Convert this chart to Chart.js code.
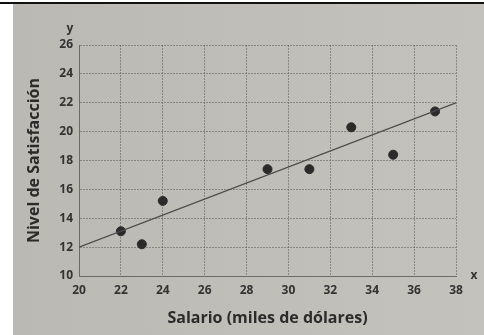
<!DOCTYPE html>
<html>
<head>
<meta charset="utf-8">
<script src="https://cdn.jsdelivr.net/npm/chart.js@4"></script>
<style>
  html, body { margin: 0; padding: 0; background: #fff; }
  #wrap { width: 484px; height: 335px; position: relative; }
</style>
</head>
<body>
<div id="wrap"><canvas id="chart" width="484" height="335"></canvas></div>
<script>
// salario (miles) vs nivel de satisfaccion
const salario = [22, 23, 24, 29, 31, 33, 35, 37];
const satisfaccion = [13.1, 12.2, 15.2, 17.4, 17.4, 20.3, 18.4, 21.4];

// recta de ajuste (extremos)
const rectaX = [20, 38];
const rectaY = [12, 22];

const xMin = 20, xMax = 38, yMin = 10, yMax = 26;

const tinta = '#2b2b2b';
const fuenteTicks = { family: 'Open Sans', size: 12, weight: 'bold' };
const fuenteTitulo = { family: 'Open Sans', size: 16, weight: 'bold' };

// fondo de papel, franja blanca y linea negra de arriba
const papel = {
  id: 'papel',
  beforeDraw(chart) {
    const ctx = chart.ctx;
    ctx.save();
    ctx.fillStyle = '#ffffff';
    ctx.fillRect(0, 0, chart.width, chart.height);
    const g = ctx.createLinearGradient(13, 0, chart.width, 0);
    g.addColorStop(0, '#bab9b4');
    g.addColorStop(1, '#c3c2bd');
    ctx.fillStyle = g;
    ctx.fillRect(13, 4, chart.width - 13, chart.height - 4);
    ctx.fillStyle = '#111';
    ctx.fillRect(0, 2, chart.width, 2);
    ctx.restore();
  },
  afterDraw(chart) {
    // letras de los ejes
    const ctx = chart.ctx;
    const a = chart.chartArea;
    ctx.save();
    ctx.fillStyle = '#333';
    ctx.font = 'bold 12px "Open Sans"';
    ctx.textAlign = 'center';
    ctx.textBaseline = 'middle';
    ctx.fillText('y', a.left - 9, a.top - 16);
    ctx.fillText('x', a.right + 18, a.bottom);
    ctx.restore();
  }
};

new Chart(document.getElementById('chart'), {
  type: 'scatter',
  data: {
    datasets: [
      {
        type: 'line',
        data: rectaX.map((x, i) => ({ x: x, y: rectaY[i] })),
        borderColor: '#4a4a4a',
        borderWidth: 1.3,
        pointRadius: 0,
        fill: false
      },
      {
        data: salario.map((x, i) => ({ x: x, y: satisfaccion[i] })),
        backgroundColor: tinta,
        borderColor: tinta,
        pointRadius: 4.5,
        pointHoverRadius: 4.5
      }
    ]
  },
  options: {
    responsive: false,
    animation: false,
    layout: { padding: { left: 24, top: 45, right: 28, bottom: 0 } },
    plugins: { legend: { display: false }, tooltip: { enabled: false } },
    scales: {
      x: {
        type: 'linear',
        min: xMin, max: xMax,
        afterFit(s) { s.height = 59; },
        ticks: { stepSize: 2, padding: 7, color: '#333', font: fuenteTicks },
        grid: { color: 'rgba(80,80,80,0.5)', lineWidth: 1, drawTicks: false },
        border: { display: true, color: '#6a6a6a', dash: [2, 1] },
        title: {
          display: true,
          text: 'Salario (miles de dólares)',
          color: tinta,
          font: fuenteTitulo,
          padding: { top: 0, bottom: 7 }
        }
      },
      y: {
        type: 'linear',
        min: yMin, max: yMax,
        afterFit(s) { s.width = 55; },
        ticks: { stepSize: 2, padding: 6, color: '#333', font: fuenteTicks },
        grid: { color: 'rgba(80,80,80,0.5)', lineWidth: 1, drawTicks: false },
        border: { display: true, color: '#6a6a6a', dash: [2, 1] },
        title: {
          display: true,
          text: 'Nivel de Satisfacción',
          color: tinta,
          font: fuenteTitulo,
          padding: { top: 1, bottom: 0 }
        }
      }
    }
  },
  plugins: [papel]
});
</script>
</body>
</html>
